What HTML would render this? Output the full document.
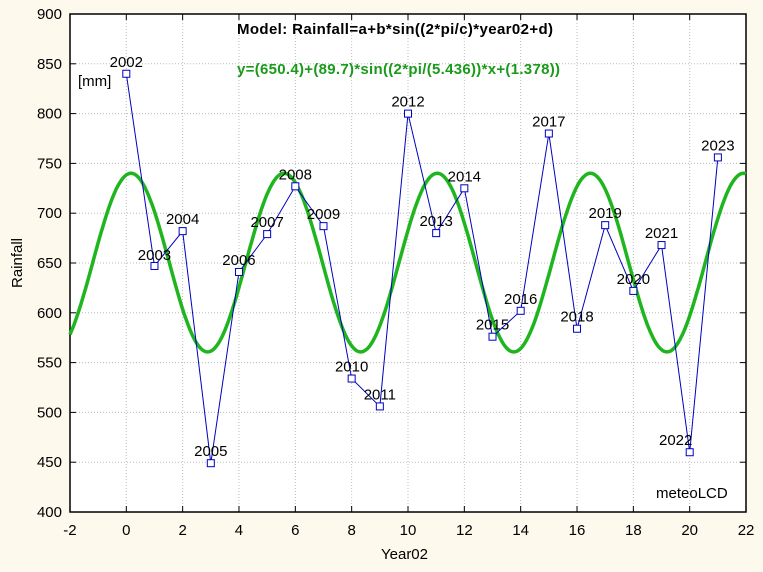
<!DOCTYPE html>
<html><head><style>
body{margin:0;background:#fdf9ec;}
svg{display:block;font-family:"Liberation Sans",Arial,sans-serif;}
</style></head><body>
<svg id="s" width="763" height="572" xmlns="http://www.w3.org/2000/svg">
<rect width="763" height="572" fill="#fdf9ec"/>
<rect x="70" y="14" width="676" height="498" fill="#fff"/>
<g id="grid" stroke="#bbb" stroke-dasharray="1,2" stroke-width="1"></g>
<rect x="70" y="14" width="676" height="498" fill="none" stroke="#000" stroke-width="1.5"/>
<g id="ticks" stroke="#000"></g>
<g id="labels" font-size="15" fill="#000"></g>
<text x="237" y="34" font-size="15" font-weight="bold" textLength="316">Model: Rainfall=a+b*sin((2*pi/c)*year02+d)</text>
<text x="237" y="74" font-size="15" font-weight="bold" fill="#1a9a1a" textLength="323">y=(650.4)+(89.7)*sin((2*pi/(5.436))*x+(1.378))</text>
<text x="78" y="86" font-size="15">[mm]</text>
<text x="656" y="498" font-size="15">meteoLCD</text>
<text x="381" y="559" font-size="15">Year02</text>
<text transform="translate(22,263) rotate(-90)" text-anchor="middle" font-size="15">Rainfall</text>
<path id="fit" fill="none" stroke="#1fb51f" stroke-width="3.5"/>
<polyline id="data" fill="none" stroke="#0000c0" stroke-width="1"/>
<g id="pts"></g>
<g id="yl" font-size="15" fill="#000"></g>
</svg>
<script>
const X=v=>126.3+v*28.17, Y=v=>512-(v-400)*0.996;
const ns="http://www.w3.org/2000/svg";
function el(p,t,a,txt){const e=document.createElementNS(ns,t);for(const k in a)e.setAttribute(k,a[k]);if(txt!=null)e.textContent=txt;document.getElementById(p).appendChild(e);}
for(let x=-2;x<=22;x+=2){const px=X(x);if(x>-2&&x<22)el("grid","line",{x1:px,y1:14,x2:px,y2:512});
el("ticks","line",{x1:px,y1:512,x2:px,y2:506});el("ticks","line",{x1:px,y1:14,x2:px,y2:20});
el("labels","text",{x:px,y:535,"text-anchor":"middle"},x);}
for(let v=400;v<=900;v+=50){const py=Y(v);if(v>400&&v<900)el("grid","line",{x1:70,y1:py,x2:746,y2:py});
el("ticks","line",{x1:70,y1:py,x2:76,y2:py});el("ticks","line",{x1:746,y1:py,x2:740,y2:py});
el("labels","text",{x:62,y:py+5,"text-anchor":"end"},v);}
let d="";for(let x=-2;x<=22.001;x+=0.05){const y=650.4+89.7*Math.sin(2*Math.PI/5.436*x+1.378);d+=(d?"L":"M")+X(x).toFixed(1)+","+Y(y).toFixed(1);}
document.getElementById("fit").setAttribute("d",d);
const v=[840,647,682,449,641,679,727,687,534,506,800,680,725,576,602,780,584,688,622,668,460,756];
const off={1:[0,-6],20:[-14,-7]};
let pts="";
v.forEach((val,i)=>{const px=X(i),py=Y(val);pts+=px+","+py+" ";
el("pts","rect",{x:px-3.5,y:py-3.5,width:7,height:7,fill:"#fff",stroke:"#0000c0","stroke-width":1});
const [dx,dy]=off[i]||[0,-7];
el("yl","text",{x:px+dx,y:py+dy,"text-anchor":"middle"},2002+i);});
document.getElementById("data").setAttribute("points",pts);
document.getElementById("s").appendChild(document.getElementById("pts"));
document.getElementById("s").appendChild(document.getElementById("yl"));
</script>
</body></html>
